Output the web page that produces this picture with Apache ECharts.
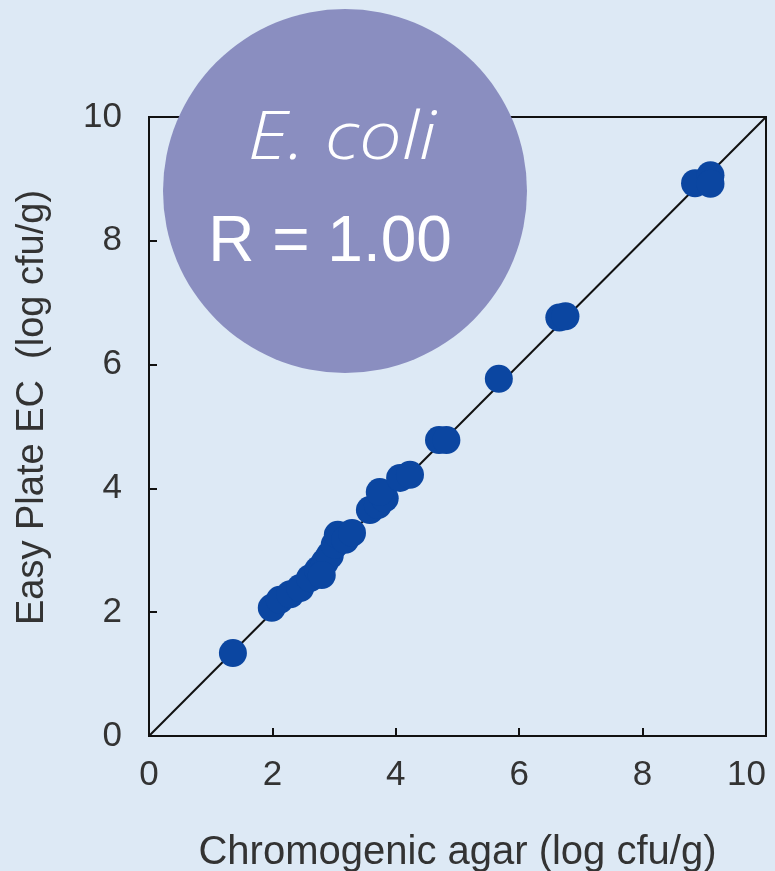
<!DOCTYPE html>
<html>
<head>
<meta charset="utf-8">
<script src="https://cdn.jsdelivr.net/npm/echarts@6/dist/echarts.min.js"></script>
<style>
  html, body { margin: 0; padding: 0; background: #dde9f5; }
  #chart { width: 775px; height: 871px; }
</style>
</head>
<body>
<div id="chart"></div>
<script>
// Chromogenic agar counts (x) vs Easy Plate EC counts (y), log cfu/g
const agarCounts = [1.36, 1.99, 2.12, 2.29, 2.45, 2.61, 2.74, 2.85, 2.93, 2.80, 3.01, 3.06, 3.18, 3.29,
                    3.58, 3.71, 3.82, 3.74, 4.07, 4.23, 4.70, 4.82, 5.67, 6.65, 6.75, 8.85, 9.10, 9.10];
const plateCounts = [1.34, 2.07, 2.20, 2.29, 2.39, 2.55, 2.68, 2.81, 2.92, 2.60, 3.09, 3.25, 3.17, 3.28,
                     3.65, 3.73, 3.84, 3.94, 4.17, 4.22, 4.78, 4.78, 5.77, 6.76, 6.78, 8.93, 9.06, 8.92];
const axisTicks = [0, 2, 4, 6, 8, 10];
const identityLine = [[0, 0], [10, 10]];
const speciesName = 'E. coli';
const correlationText = 'R = 1.00';

const chart = echarts.init(document.getElementById('chart'));
const tickMin = axisTicks[0];
const tickMax = axisTicks[axisTicks.length - 1];
const tickStep = axisTicks[1] - axisTicks[0];
const labelFont = 'Liberation Sans, Arial, sans-serif';

const axisCommon = {
  type: 'value',
  min: tickMin,
  max: tickMax,
  interval: tickStep,
  nameLocation: 'middle',
  axisLine: { show: true, lineStyle: { color: '#111', width: 2 } },
  axisTick: { show: true, inside: true, length: 8, lineStyle: { color: '#111', width: 2 } },
  axisLabel: { color: '#333', fontSize: 35, fontFamily: labelFont },
  splitLine: { show: false }
};

chart.setOption({
  backgroundColor: '#dde9f5',
  animation: false,
  grid: {
    left: 149, right: 9, top: 117, bottom: 135,
    outerBoundsMode: 'none',
    containLabel: false,
    show: true, borderColor: '#111', borderWidth: 2, backgroundColor: 'transparent'
  },
  xAxis: Object.assign({}, axisCommon, {
    name: 'Chromogenic agar (log cfu/g)',
    nameGap: 97,
    nameTextStyle: { color: '#333', fontSize: 40, fontFamily: labelFont },
    axisLabel: Object.assign({}, axisCommon.axisLabel, { margin: 22, alignMaxLabel: 'right' })
  }),
  yAxis: Object.assign({}, axisCommon, {
    name: 'Easy Plate EC  (log cfu/g)',
    nameGap: 97,
    nameTextStyle: { color: '#333', fontSize: 38, fontFamily: labelFont, padding: [0, 0, 0, 38] },
    axisLabel: Object.assign({}, axisCommon.axisLabel, { margin: 27 })
  }),
  series: [
    {
      type: 'line',
      data: identityLine,
      symbol: 'none',
      silent: true,
      lineStyle: { color: '#111', width: 2 },
      z: 1
    },
    {
      type: 'scatter',
      data: agarCounts.map((x, i) => [x, plateCounts[i]]),
      symbol: 'circle',
      symbolSize: 28,
      itemStyle: { color: '#0b46a1', opacity: 1 },
      z: 2
    }
  ],
  graphic: [
    {
      type: 'circle',
      z: 100,
      shape: { cx: 345, cy: 191, r: 182 },
      style: { fill: '#8a8ec0' }
    },
    {
      type: 'text',
      z: 101,
      x: 342, y: 140,
      scaleX: 1.15,
      style: {
        text: speciesName,
        fill: '#fff',
        font: 'italic 300 66px "Open Sans", Lato, sans-serif',
        align: 'center', verticalAlign: 'middle'
      }
    },
    {
      type: 'text',
      z: 101,
      x: 330, y: 243,
      style: {
        text: correlationText,
        fill: '#fff',
        font: '64px "Liberation Sans", Arial, sans-serif',
        align: 'center', verticalAlign: 'middle'
      }
    }
  ]
});
</script>
</body>
</html>
